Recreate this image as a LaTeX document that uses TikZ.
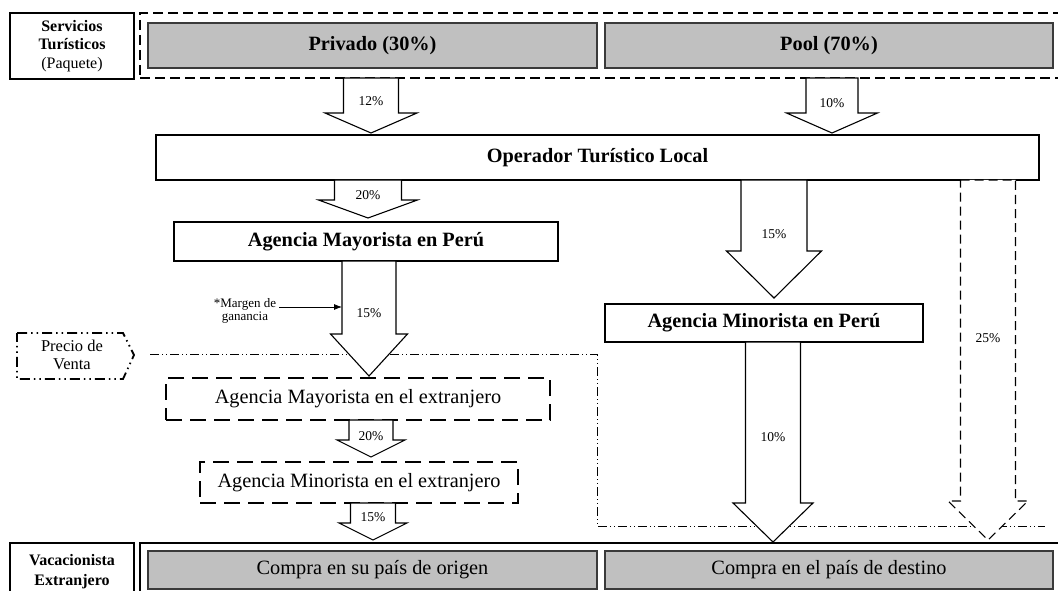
\documentclass[tikz,border=0pt]{standalone}
\usepackage{fontspec}
\setmainfont{Liberation Serif}
\usetikzlibrary{arrows.meta}

\definecolor{boxgrey}{HTML}{C0C0C0}
\definecolor{edgegrey}{HTML}{3A3A3A}

\tikzset{
  every node/.style={inner sep=0pt, outer sep=0pt},
  headbox/.style={draw=black, line width=1.6pt, fill=white, align=center,
    font=\fontsize{16}{18.5}\selectfont},
  mainbox/.style={draw=black, line width=1.6pt, fill=white,
    font=\fontsize{20.3}{23}\selectfont\bfseries},
  greybox/.style={draw=edgegrey, line width=1.1pt, fill=boxgrey,
    font=\fontsize{20.3}{23}\selectfont},
  abroadbox/.style={draw=black, line width=2.2pt, dash pattern=on 16pt off 8pt,
    fill=white, font=\fontsize{20.3}{23}\selectfont},
  pkgframe/.style={draw=black, line width=1.4pt, dash pattern=on 10pt off 5pt},
  buyframe/.style={draw=black, line width=1.1pt},
  pricerule/.style={draw=black, line width=1pt,
    dash pattern=on 9pt off 3pt on 1pt off 3pt on 1pt off 3pt},
  pricetag/.style={draw=black, line width=1.8pt,
    dash pattern=on 10pt off 4pt on 1.5pt off 4pt on 1.5pt off 4pt},
  barrow/.style={draw=black, line width=1.1pt, fill=white, line join=miter},
  pct/.style={font=\fontsize{13.5}{15}\selectfont},
  % block arrow: half shaft, half head, head base depth, tip depth, label depth, label
  pics/blockarrow/.style n args={6}{code={
    \draw[barrow] (-#1,0) -- (#1,0) -- (#1,#3) -- (#2,#3) -- (0,#4)
      -- (-#2,#3) -- (-#1,#3) -- cycle;
    \node[pct] (-lbl) at (0,#5) {#6};
  }},
}

\begin{document}
\begin{tikzpicture}[x=1pt, y=-1pt]
\useasboundingbox[fill=white] (0,0) rectangle (1058,591);

% --- top row: tourist services package ---
\node[headbox, minimum width=124pt, minimum height=66pt] (svc) at (72,46)
  {\textbf{Servicios}\\\textbf{Turísticos}\\(Paquete)};
\node[pkgframe, minimum width=924pt, minimum height=65pt] (pkg) at (602,45.5) {};
\node[greybox, minimum width=449pt, minimum height=45pt] (priv) at (372.5,45.5)
  {\bfseries Privado (30\%)};
\node[greybox, minimum width=448pt, minimum height=45pt] (pool) at (829,45.5)
  {\bfseries Pool (70\%)};

% --- local operator and agencies in Peru ---
\node[mainbox, minimum width=883pt, minimum height=45pt] (op) at (597.5,157.5)
  {Operador Turístico Local};
\node[mainbox, minimum width=384pt, minimum height=39pt] (mayP) at (366,241.5)
  {Agencia Mayorista en Perú};
\node[mainbox, minimum width=318pt, minimum height=38pt] (minP) at (764,323)
  {Agencia Minorista en Perú};

% --- agencies abroad ---
\node[abroadbox, minimum width=384pt, minimum height=42pt] (mayE) at (358,399)
  {Agencia Mayorista en el extranjero};
\node[abroadbox, minimum width=318pt, minimum height=41pt] (minE) at (359,482.5)
  {Agencia Minorista en el extranjero};

% --- sale price marker and its boundary ---
\draw[pricetag] (17,333) -- (123,333) -- (134,355) -- (123,379) -- (17,379) -- cycle;
\node[align=center, font=\fontsize{16.5}{18}\selectfont] (precio) at (72,355)
  {Precio de\\Venta};
\coordinate (pr1) at (150,354);
\coordinate (pr2) at (597,354);
\coordinate (pr3) at (597,526);
\coordinate (pr4) at (1045,526);
\draw[pricerule] (pr1) -- (pr2) -- (pr3) -- (pr4);

% --- bottom row: foreign holidaymaker ---
\node[headbox, minimum width=124pt, minimum height=58pt,
      font=\fontsize{16}{20}\selectfont\bfseries] (vac) at (72,572)
  {Vacacionista\\Extranjero};
\node[buyframe, minimum width=924pt, minimum height=58pt] (buy) at (602,572) {};
\node[greybox, minimum width=449pt, minimum height=38pt] (compO) at (372.5,570)
  {Compra en su país de origen};
\node[greybox, minimum width=448pt, minimum height=38pt] (compD) at (829,570)
  {Compra en el país de destino};

% --- margin block arrows ---
\pic (a12) at (371,78)  {blockarrow={27.5}{46}{35}{55}{23}{12\%}};
\pic (a10) at (832,78)  {blockarrow={26}{45.5}{35}{55}{25}{10\%}};
\pic (a20) at (368,180) {blockarrow={33.5}{49.5}{20}{38}{15}{20\%}};
\pic (a15) at (369,261) {blockarrow={27}{38.5}{73}{115}{52}{15\%}};
\pic (a20s) at (371,420) {blockarrow={22}{34}{20}{37}{16}{20\%}};
\pic (a15s) at (373,503) {blockarrow={22.5}{34}{20}{37}{14}{15\%}};
\pic (a15r) at (774,180) {blockarrow={33}{47.5}{71}{118}{54}{15\%}};
\pic (a10r) at (773,342) {blockarrow={27.5}{40}{161}{200}{95}{10\%}};
\pic[dash pattern=on 9pt off 5pt] (a25) at (988,180)
  {blockarrow={27.5}{40}{321}{360}{158}{25\%}};

% --- profit margin note ---
\node[align=center, font=\fontsize{13}{13.5}\selectfont] (margen) at (245,311)
  {*Margen de\\ganancia};
\coordinate (mtip) at (342,307);
\draw[line width=0.8pt, -{Latex[length=8pt,width=6pt]}] (margen.east |- mtip) ++(3,0) -- (mtip);
\end{tikzpicture}
\end{document}
